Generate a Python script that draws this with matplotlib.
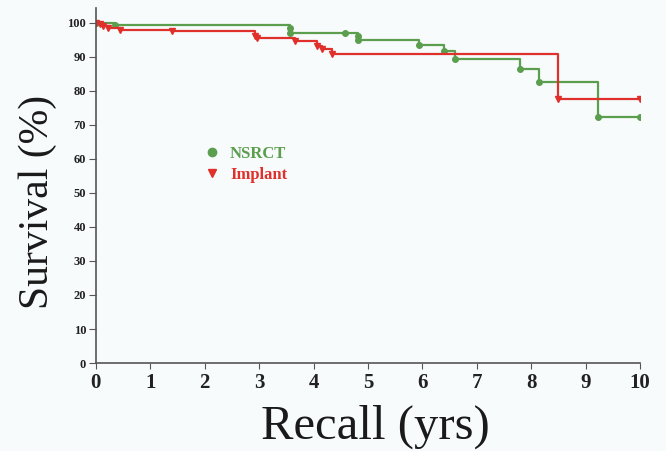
import matplotlib
matplotlib.use('Agg')
import matplotlib.pyplot as plt
from matplotlib.lines import Line2D

plt.rcParams['font.family'] = ['Liberation Serif', 'DejaVu Serif']

# Kaplan-Meier steps (years, survival %)
nsrct_t = [0, 0.35, 3.57, 3.57, 4.82, 4.82, 5.94, 6.39, 6.60, 7.80, 8.15, 9.23, 10.0]
nsrct_s = [100, 99.4, 98.4, 96.9, 96.2, 94.8, 93.5, 91.6, 89.4, 86.5, 82.6, 72.4, 72.4]
nsrct_mark_t = [0, 0.35, 3.57, 3.57, 4.58, 4.82, 4.82, 5.94, 6.39, 6.60, 7.80, 8.15, 9.23, 10.0]
nsrct_mark_s = [100, 99.4, 98.4, 96.9, 96.9, 96.2, 94.8, 93.5, 91.6, 89.4, 86.5, 82.6, 72.4, 72.4]

implant_t = [0, 0.07, 0.13, 0.22, 0.45, 1.39, 2.92, 2.96, 3.65, 4.07, 4.15, 4.33, 8.49, 10.0]
implant_s = [100, 99.6, 98.9, 98.4, 97.9, 97.6, 96.2, 95.6, 94.6, 93.3, 92.2, 90.8, 77.6, 77.6]

x_ticks = list(range(0, 11))
y_ticks = list(range(0, 101, 10))

green = '#5a9e4e'
red = '#e0302c'
bg = '#f8fbfc'

fig = plt.figure(figsize=(6.66, 4.51), dpi=100, facecolor=bg)
ax = fig.add_axes([0.144, 0.195, 0.817, 0.787], facecolor=bg)

ax.step(nsrct_t, nsrct_s, where='post', color=green, lw=1.6)
ax.plot(nsrct_mark_t, nsrct_mark_s, 'o', color=green, ms=4, ls='none')
ax.step(implant_t, implant_s, where='post', color=red, lw=1.6)
ax.plot(implant_t, implant_s, 'v', color=red, ms=4, ls='none')

ax.set_xlim(0, 10)
ax.set_ylim(0, 104.3)
ax.set_xticks(x_ticks)
ax.set_yticks(y_ticks)
for side in ['top', 'right']:
    ax.spines[side].set_visible(False)
for side in ['left', 'bottom']:
    ax.spines[side].set_color('#555555')
    ax.spines[side].set_linewidth(1.2)
ax.tick_params(axis='x', length=4, color='#555555', labelsize=15, pad=3)
ax.tick_params(axis='y', length=5, color='#555555', labelsize=9, pad=2)
for label in ax.get_xticklabels() + ax.get_yticklabels():
    label.set_fontweight('bold')
    label.set_color('#222222')

ax.set_xlabel('Recall (yrs)', fontsize=35, color='#1a1a1a')
ax.set_ylabel('Survival (%)', fontsize=30, color='#1a1a1a')
ax.xaxis.set_label_coords(0.513, -0.181)
ax.yaxis.set_label_coords(-0.106, 0.453)
ax.xaxis.label.set_va('center')
ax.yaxis.label.set_va('center')

handles = [Line2D([], [], marker='o', color=green, ls='none', ms=6),
           Line2D([], [], marker='v', color=red, ls='none', ms=6)]
ax.legend(handles, ['NSRCT', 'Implant'], loc='upper left',
          bbox_to_anchor=(0.17, 0.655), frameon=False,
          prop=dict(size=12, weight='bold'), labelcolor=[green, red],
          handlelength=1, handletextpad=0.6, labelspacing=0.3)

fig.savefig('out.png', dpi=100, facecolor=bg)
